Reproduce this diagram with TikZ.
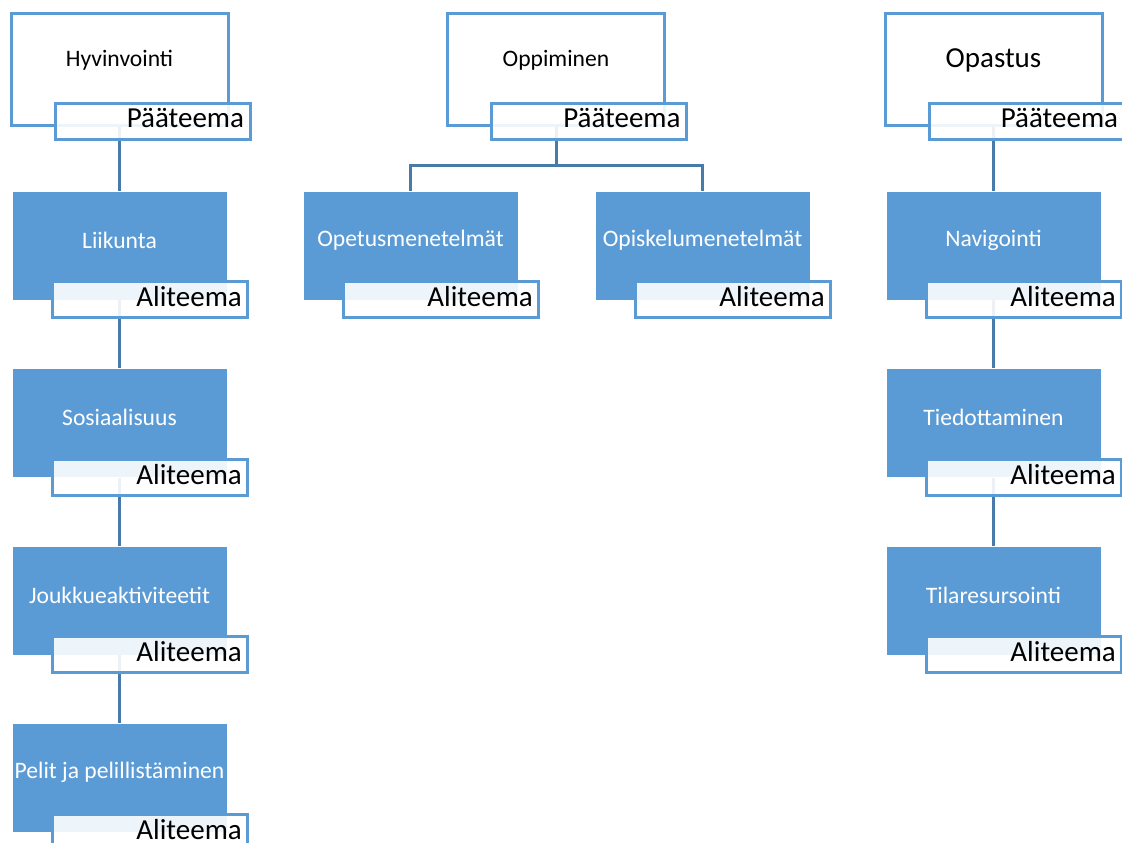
\documentclass[tikz,border=0pt]{standalone}
\usepackage{fontspec}
\setmainfont{Carlito}
\usetikzlibrary{positioning}
\definecolor{smblue}{RGB}{91,155,213}
\definecolor{smlink}{RGB}{72,122,170}
\tikzset{
	topbox/.style={draw=smblue, line width=2.25pt, fill=white, minimum width=162.75pt, minimum height=84pt, inner sep=0pt},
	subbox/.style={fill=smblue, draw=white, line width=0.5pt, minimum width=161.25pt, minimum height=81.75pt, inner sep=0pt},
	tagbox/.style={draw=smblue, line width=2.25pt, fill=white, fill opacity=0.9, text opacity=1, text width=137.25pt, align=right, inner xsep=4.5pt, inner ysep=0pt, minimum height=27pt, text depth=4.5pt, anchor=north east, font=\fontsize{21.75}{24}\selectfont},
	smalltext/.style={font=\fontsize{17.7}{20}\selectfont},
	bigtext/.style={font=\fontsize{21.75}{24}\selectfont},
	subtext/.style={smalltext, text=white},
	link/.style={draw=smlink, line width=2.25pt},
}
\begin{document}
\begin{tikzpicture}[x=0.75pt,y=-0.75pt]
	\useasboundingbox (0,0) rectangle (1122,843);
	\clip (0,0) rectangle (1122,843);
	% main themes
	\node[topbox] (hyv) at (119.5,69) {};
	\node[topbox] (opp) at (556,69) {};
	\node[topbox] (opa) at (993.5,69) {};
	\node[smalltext] at ([yshift=6.75pt]hyv.center) {Hyvinvointi};
	\node[smalltext] at ([yshift=6.75pt]opp.center) {Oppiminen};
	\node[bigtext] at ([yshift=6.75pt]opa.center) {Opastus};
	% sub themes, left column
	\node[subbox] (lii) at (119.5,245.5) {};
	\node[subbox, below=50.85pt of lii] (sos) {};
	\node[subbox, below=50.85pt of sos] (jou) {};
	\node[subbox, below=50.85pt of jou] (pel) {};
	% sub themes, middle
	\node[subbox] (opet) at (410.5,245.5) {};
	\node[subbox] (opis) at (702.5,245.5) {};
	% sub themes, right column
	\node[subbox] (nav) at (993.5,245.5) {};
	\node[subbox, below=50.85pt of nav] (tie) {};
	\node[subbox, below=50.85pt of tie] (til) {};
	\node[subtext] at ([yshift=4pt]lii.center) {Liikunta};
	\node[subtext] at ([yshift=4pt]sos.center) {Sosiaalisuus};
	\node[subtext] at ([yshift=4pt]jou.center) {Joukkueaktiviteetit};
	\node[subtext] at ([yshift=4pt]pel.center) {Pelit ja pelillistäminen};
	\node[subtext] at ([yshift=4pt]opet.center) {Opetusmenetelmät};
	\node[subtext] at ([yshift=4pt]opis.center) {Opiskelumenetelmät};
	\node[subtext] at ([yshift=4pt]nav.center) {Navigointi};
	\node[subtext] at ([yshift=4pt]tie.center) {Tiedottaminen};
	\node[subtext] at ([yshift=4pt]til.center) {Tilaresursointi};
	% connectors
	\draw[link] (hyv.south) -- (lii.north);
	\draw[link] (lii.south) -- (sos.north);
	\draw[link] (sos.south) -- (jou.north);
	\draw[link] (jou.south) -- (pel.north);
	\coordinate (fork) at ([yshift=-29.25pt]opp.south);
	\draw[link] (opp.south) -- (fork) -| (opet.north);
	\draw[link] (fork) -| (opis.north);
	\draw[link] (opa.south) -- (nav.north);
	\draw[link] (nav.south) -- (tie.north);
	\draw[link] (tie.south) -- (til.north);
	% labels
	\node[tagbox] (hyv-tag) at ([xshift=16.5pt,yshift=18.75pt]hyv.south east) {Pääteema};
	\node[tagbox] (opp-tag) at ([xshift=16.5pt,yshift=18.75pt]opp.south east) {Pääteema};
	\node[tagbox] (opa-tag) at ([xshift=16.5pt,yshift=18.75pt]opa.south east) {Pääteema};
	\node[tagbox] (lii-tag) at ([xshift=16.5pt,yshift=15pt]lii.south east) {Aliteema};
	\node[tagbox] (sos-tag) at ([xshift=16.5pt,yshift=15pt]sos.south east) {Aliteema};
	\node[tagbox] (jou-tag) at ([xshift=16.5pt,yshift=15pt]jou.south east) {Aliteema};
	\node[tagbox] (pel-tag) at ([xshift=16.5pt,yshift=15pt]pel.south east) {Aliteema};
	\node[tagbox] (opet-tag) at ([xshift=16.5pt,yshift=15pt]opet.south east) {Aliteema};
	\node[tagbox] (opis-tag) at ([xshift=16.5pt,yshift=15pt]opis.south east) {Aliteema};
	\node[tagbox] (nav-tag) at ([xshift=16.5pt,yshift=15pt]nav.south east) {Aliteema};
	\node[tagbox] (tie-tag) at ([xshift=16.5pt,yshift=15pt]tie.south east) {Aliteema};
	\node[tagbox] (til-tag) at ([xshift=16.5pt,yshift=15pt]til.south east) {Aliteema};
\end{tikzpicture}
\end{document}
